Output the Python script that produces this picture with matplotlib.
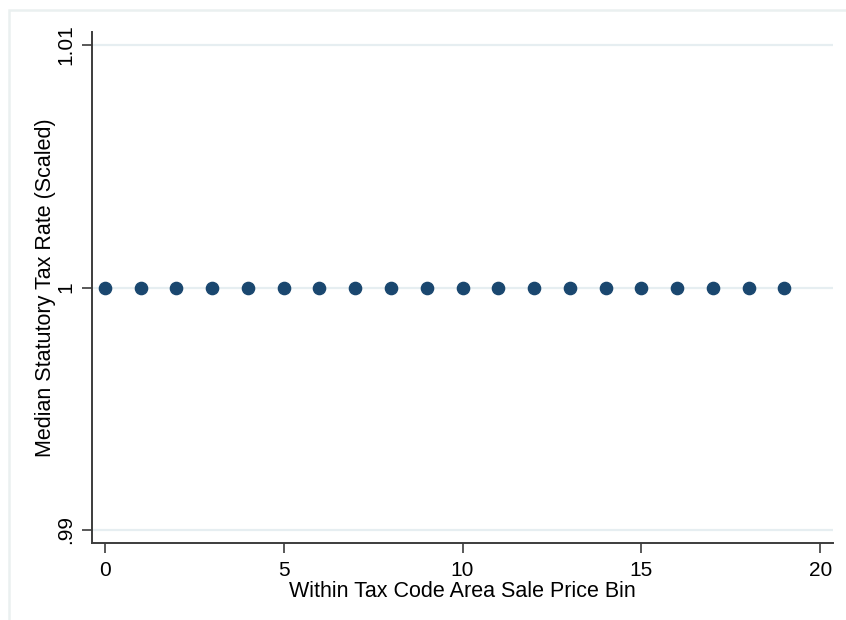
import matplotlib
matplotlib.use("Agg")
import matplotlib.pyplot as plt
from matplotlib.patches import Rectangle

plt.rcParams['font.family'] = ['Liberation Sans', 'DejaVu Sans']

# Data: median statutory tax rate (scaled) by within-TCA sale price bin
price_bin = list(range(20))
median_rate = [1.0] * 20

x_ticks = [0, 5, 10, 15, 20]
y_ticks = [0.99, 1.0, 1.01]
y_ticklabels = [".99", "1", "1.01"]

W, H = 846, 620
fig = plt.figure(figsize=(W / 100, H / 100), dpi=100)
fig.patch.set_facecolor("white")

# outer graph region border (runs off the right and bottom edges)
fig.add_artist(Rectangle((9 / W, -0.05), 1.0, 1 - 10 / H + 0.05,
                         transform=fig.transFigure, fill=False,
                         edgecolor="#eaf0f0", linewidth=1.8))

left, right, top, bottom = 92, 833, 32, 543
ax = fig.add_axes([left / W, 1 - bottom / H, (right - left) / W, (bottom - top) / H])

grid_c = "#e6eef1"
for y in y_ticks:
    ax.axhline(y, color=grid_c, linewidth=1.6, zorder=0)

ax.plot(price_bin, median_rate, linestyle="none", marker="o",
        markersize=8.8, color="#1a476f", zorder=3)

ax.set_xlim(-0.36, 20.36)
ax.set_ylim(0.98946, 1.01054)
ax.set_xticks(x_ticks)
ax.set_xticklabels([str(t) for t in x_ticks])
ax.set_yticks(y_ticks)
ax.set_yticklabels(y_ticklabels, rotation=90, va="center")

for s in ["top", "right"]:
    ax.spines[s].set_visible(False)
for s in ["left", "bottom"]:
    ax.spines[s].set_color("#3c3c3c")
    ax.spines[s].set_linewidth(1.4)

ax.tick_params(axis="both", direction="out", length=7, width=1.2,
               color="#3c3c3c", labelsize=15, labelcolor="black")
ax.tick_params(axis="x", pad=6)
ax.tick_params(axis="y", pad=5)

ax.set_xlabel("Within Tax Code Area Sale Price Bin", fontsize=15.5, va="top")
ax.xaxis.set_label_coords(0.5, -(581 - bottom) / (bottom - top))
ax.set_ylabel("Median Statutory Tax Rate (Scaled)", fontsize=15.5, va="center")
ax.yaxis.set_label_coords(-(left - 46) / (right - left), 0.5)

fig.savefig("out.png", dpi=100, facecolor="white")
